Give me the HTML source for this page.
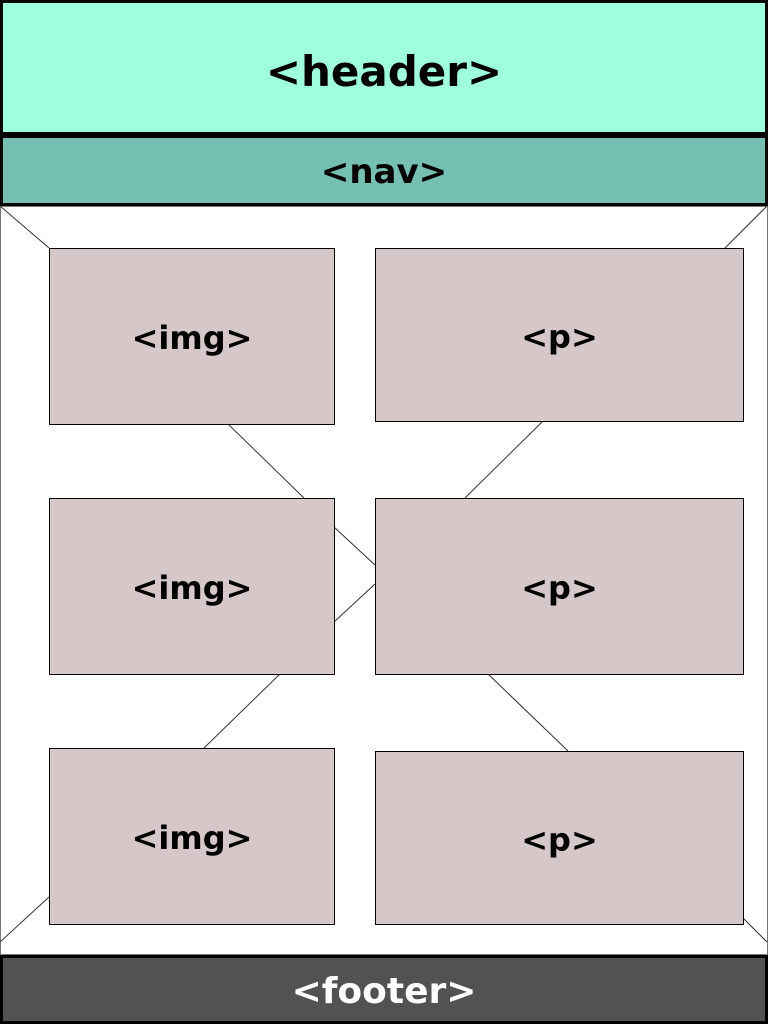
<!DOCTYPE html>
<html><head><meta charset="utf-8"><style>
body{margin:0;width:768px;height:1024px;position:relative;background:#fff;font-family:"DejaVu Sans","Liberation Sans",sans-serif;overflow:hidden}
.b{position:absolute;box-sizing:border-box;display:flex;align-items:center;justify-content:center;font-weight:bold;color:#000;padding-top:3px}
.box{background:#d6c8c8;border:1px solid #000;font-size:32px}
svg{position:absolute;left:0;top:0}
</style></head><body>
<div class="b" style="left:0;top:0;width:768px;height:135px;background:#9fffdd;border:3px solid #000;font-size:42px;padding-top:8px">&lt;header&gt;</div>
<div class="b" style="left:0;top:135px;width:768px;height:71px;background:#75bfb3;border:3px solid #000;font-size:34px">&lt;nav&gt;</div>
<svg width="768" height="1024">
<rect x="0.5" y="206.5" width="767" height="748" fill="none" stroke="#777"/>
<g stroke="#333" stroke-width="1">
<line x1="0" y1="206" x2="49" y2="248"/><line x1="767" y1="206" x2="725" y2="248"/>
<line x1="228" y1="424" x2="304" y2="498"/><line x1="543" y1="421" x2="465" y2="498"/>
<line x1="334" y1="527" x2="375" y2="565"/><line x1="375" y1="584" x2="334" y2="622"/>
<line x1="280" y1="674" x2="204" y2="748"/><line x1="488" y1="674" x2="568" y2="751"/>
<line x1="49" y1="897" x2="0" y2="942"/><line x1="743" y1="918" x2="767" y2="942"/>
</g></svg>
<div class="b box" style="left:49px;top:248px;width:286px;height:177px">&lt;img&gt;</div>
<div class="b box" style="left:375px;top:248px;width:369px;height:174px">&lt;p&gt;</div>
<div class="b box" style="left:49px;top:498px;width:286px;height:177px">&lt;img&gt;</div>
<div class="b box" style="left:375px;top:498px;width:369px;height:177px">&lt;p&gt;</div>
<div class="b box" style="left:49px;top:748px;width:286px;height:177px">&lt;img&gt;</div>
<div class="b box" style="left:375px;top:751px;width:369px;height:174px">&lt;p&gt;</div>
<div class="b" style="left:0;top:955px;width:768px;height:69px;background:#525252;border:3px solid #000;color:#fff;font-size:36px">&lt;footer&gt;</div>
</body></html>
